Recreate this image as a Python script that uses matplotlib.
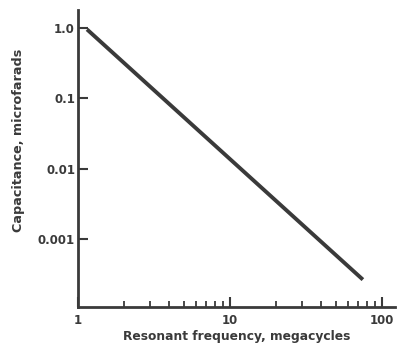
import matplotlib.pyplot as plt
import numpy as np

# resonant frequency (megacycles) vs capacitance (microfarads)
freq = [1.15, 75]
cap = [0.95, 2.7e-4]

x_ticks = [1, 10, 100]
x_ticklabels = ["1", "10", "100"]
y_ticks = [1.0, 0.1, 0.01, 0.001]
y_ticklabels = ["1.0", "0.1", "0.01", "0.001"]

ink = "#3a3a3a"
plt.rcParams["font.family"] = "DejaVu Sans"
plt.rcParams["font.weight"] = "bold"

fig = plt.figure(figsize=(3.99, 3.51), dpi=100)
ax = fig.add_axes([0.195, 0.125, 0.795, 0.847])

ax.plot(freq, cap, color=ink, lw=2.8, solid_capstyle="butt")

ax.set_xscale("log")
ax.set_yscale("log")
ax.set_xlim(1, 122)
ax.set_ylim(1.1e-4, 1.8)

for s in ["top", "right"]:
    ax.spines[s].set_visible(False)
for s in ["left", "bottom"]:
    ax.spines[s].set_color(ink)
    ax.spines[s].set_linewidth(2)

ax.set_xticks(x_ticks)
ax.set_xticklabels(x_ticklabels)
ax.set_yticks(y_ticks)
ax.set_yticklabels(y_ticklabels)
ax.yaxis.set_minor_locator(plt.NullLocator())
ax.xaxis.set_minor_locator(plt.LogLocator(base=10, subs=np.arange(2, 10)))

ax.tick_params(axis="both", which="major", direction="in", length=7, width=1.5,
               color=ink, labelcolor=ink, labelsize=8.5)
ax.tick_params(axis="x", which="minor", direction="in", length=4, width=1.3, color=ink)
ax.tick_params(axis="x", which="major", pad=5)
ax.tick_params(axis="y", which="major", pad=2)

ax.set_xlabel("Resonant frequency, megacycles", fontsize=8.8, color=ink,
              fontweight="bold", labelpad=2)
ax.set_ylabel("Capacitance, microfarads", fontsize=9.2, color=ink,
              fontweight="bold")
ax.yaxis.set_label_coords(-0.165, 0.56)

fig.savefig("out.png", dpi=100)
